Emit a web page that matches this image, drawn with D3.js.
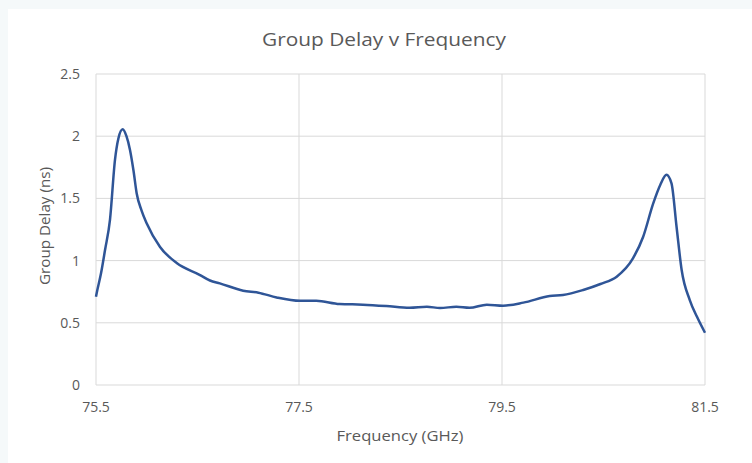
<!DOCTYPE html>
<html><head><meta charset="utf-8">
<script src="https://cdn.jsdelivr.net/npm/d3@7"></script>
<style>html,body{margin:0;padding:0;background:#f5f9fa;}svg{display:block;}</style>
</head><body>
<svg id="chart" width="752" height="463"></svg>
<script>
const freq = [75.5,75.507,75.55,75.589,75.638,75.687,75.72,75.763,75.8,75.835,75.87,75.901,75.95,75.999,76.131,76.295,76.525,76.623,76.72,76.95,77.10,77.28,77.51,77.67,77.90,78.13,78.36,78.59,78.76,78.89,79.05,79.18,79.35,79.51,79.71,79.97,80.10,80.30,80.47,80.63,80.79,80.89,80.99,81.06,81.12,81.17,81.22,81.27,81.35,81.42,81.5];
const delay = [0.71,0.74,0.9,1.085,1.33,1.81,1.98,2.055,2.0,1.89,1.72,1.54,1.4,1.30,1.11,0.98,0.884,0.84,0.817,0.758,0.742,0.704,0.677,0.677,0.651,0.646,0.635,0.621,0.629,0.619,0.629,0.621,0.646,0.638,0.662,0.715,0.723,0.764,0.812,0.871,1.018,1.19,1.46,1.61,1.69,1.62,1.27,0.924,0.683,0.55,0.42];
const xTicks = [75.5,77.5,79.5,81.5];
const yTicks = [0,0.5,1,1.5,2,2.5];
const titleText = "Group Delay v Frequency";
const xLabel = "Frequency (GHz)";
const yLabel = "Group Delay (ns)";

const svg = d3.select("#chart");
const font = "'Open Sans', sans-serif";
svg.append("rect").attr("x",8).attr("y",9).attr("width",744).attr("height",454).attr("fill","#ffffff");

const m = {l:96, r:705, t:74, b:385};
const x = d3.scaleLinear().domain([75.5,81.5]).range([m.l,m.r]);
const y = d3.scaleLinear().domain([0,2.5]).range([m.b,m.t]);

svg.append("g").selectAll("line").data(yTicks).join("line")
  .attr("x1",m.l).attr("x2",m.r).attr("y1",d=>y(d)).attr("y2",d=>y(d))
  .attr("stroke","#d9d9d9").attr("stroke-width",1);
svg.append("g").selectAll("line").data(xTicks).join("line")
  .attr("y1",m.t).attr("y2",m.b).attr("x1",d=>x(d)).attr("x2",d=>x(d))
  .attr("stroke","#d9d9d9").attr("stroke-width",1);

svg.append("g").selectAll("text").data(yTicks).join("text")
  .attr("x",80).attr("y",d=>y(d)).attr("dy","0.36em").attr("text-anchor","end")
  .attr("font-family",font).attr("font-size",14).attr("fill","#595959").text(d=>d);
svg.append("g").selectAll("text").data(xTicks).join("text")
  .attr("x",d=>x(d)).attr("y",412).attr("text-anchor","middle")
  .attr("font-family",font).attr("font-size",14).attr("fill","#595959").text(d=>d);

svg.append("text").attr("x",336.5).attr("y",441)
  .attr("textLength",127).attr("lengthAdjust","spacingAndGlyphs")
  .attr("font-family",font).attr("font-size",15).attr("fill","#595959").text(xLabel);
svg.append("text").attr("transform","translate(50,285) rotate(-90)")
  .attr("textLength",118).attr("lengthAdjust","spacingAndGlyphs")
  .attr("font-family",font).attr("font-size",14.5).attr("fill","#595959").text(yLabel);
svg.append("text").attr("x",262).attr("y",46)
  .attr("textLength",244).attr("lengthAdjust","spacingAndGlyphs")
  .attr("font-family",font).attr("font-size",18.5).attr("fill","#595959").text(titleText);

const line = d3.line().x((d,i)=>x(freq[i])).y(d=>y(d)).curve(d3.curveMonotoneX);
svg.append("path").datum(delay).attr("d",line).attr("fill","none")
  .attr("stroke","#2f5597").attr("stroke-width",2.5).attr("stroke-linejoin","round");
</script>
</body></html>
